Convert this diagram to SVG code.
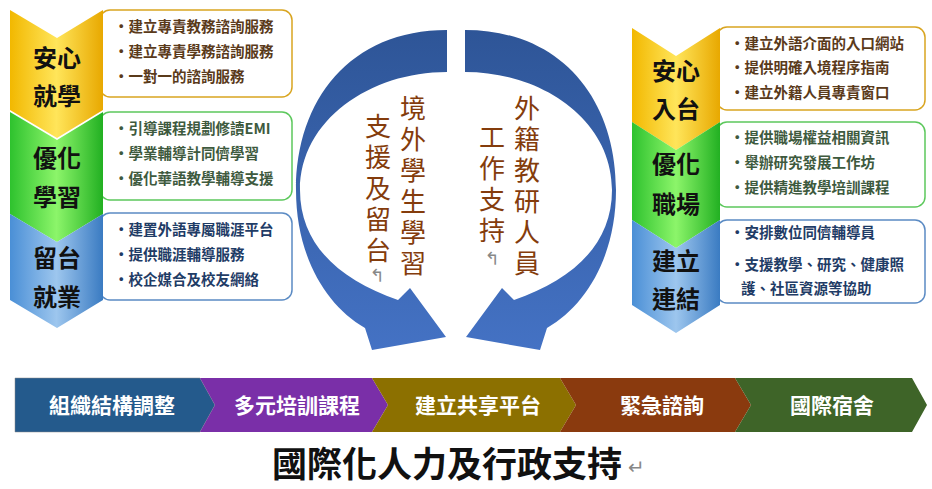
<svg xmlns="http://www.w3.org/2000/svg" width="932" height="489" viewBox="0 0 932 489">
<defs>
<linearGradient id="gy" x1="0" y1="0" x2="1" y2="0"><stop offset="0" stop-color="#F2B800"/><stop offset="0.5" stop-color="#FFE55A"/><stop offset="1" stop-color="#E8A800"/></linearGradient>
<linearGradient id="gg" x1="0" y1="0" x2="1" y2="0"><stop offset="0" stop-color="#2EC22E"/><stop offset="0.5" stop-color="#8CF56A"/><stop offset="1" stop-color="#22B022"/></linearGradient>
<linearGradient id="gb" x1="0" y1="0" x2="1" y2="0"><stop offset="0" stop-color="#4A8FD6"/><stop offset="0.5" stop-color="#9DC6EE"/><stop offset="1" stop-color="#3A7BC2"/></linearGradient>
<linearGradient id="ga" x1="0" y1="0" x2="0" y2="1"><stop offset="0" stop-color="#2E5597"/><stop offset="1" stop-color="#4472C4"/></linearGradient>
<style>
.ch{font-family:"Noto Sans CJK TC","Noto Sans CJK SC",sans-serif;font-size:24px;font-weight:bold;fill:#111;text-anchor:middle}
.bx{fill:#fff;stroke-width:1.5}
.li{font-family:"Noto Sans CJK TC","Noto Sans CJK SC",sans-serif;font-size:14.5px;font-weight:bold}
.vt{font-family:"Noto Sans CJK TC","Noto Sans CJK SC",sans-serif;font-size:26px;fill:#843C0C;writing-mode:vertical-rl;letter-spacing:5px}
.mk{font-family:"DejaVu Sans",sans-serif;font-size:18px;fill:#888;text-anchor:middle}
.bt{font-family:"Noto Sans CJK TC","Noto Sans CJK SC",sans-serif;font-size:21px;font-weight:bold;fill:#fff;text-anchor:middle}
</style>
</defs>
<rect width="932" height="489" fill="#fff"/>

<g id="left1">
<rect class="bx" x="100" y="10" width="192" height="87" rx="10" stroke="#D9A520"/>
<polygon points="10,10 57,38 103,10 103,110 57,138 10,110" fill="url(#gy)"/>
<text class="ch" x="57" y="67">安心</text><text class="ch" x="57" y="105">就學</text>
<g class="li" fill="#5A3A1A"><text x="114" y="32">•建立專責教務諮詢服務</text><text x="114" y="57">•建立專責學務諮詢服務</text><text x="114" y="82">•一對一的諮詢服務</text></g>
</g>
<g id="left2">
<rect class="bx" x="100" y="112" width="192" height="88" rx="10" stroke="#5CC85C"/>
<polygon points="10,112 57,140 103,112 103,214 57,242 10,214" fill="url(#gg)"/>
<text class="ch" x="57" y="167">優化</text><text class="ch" x="57" y="206">學習</text>
<g class="li" fill="#3E5A3E"><text x="114" y="134">•引導課程規劃修讀EMI</text><text x="114" y="159">•學業輔導計同儕學習</text><text x="114" y="184">•優化華語教學輔導支援</text></g>
</g>
<g id="left3">
<rect class="bx" x="100" y="213" width="192" height="87" rx="10" stroke="#5B8BC4"/>
<polygon points="10,214 57,242 103,214 103,300 57,328 10,300" fill="url(#gb)"/>
<text class="ch" x="57" y="267">留台</text><text class="ch" x="57" y="306">就業</text>
<g class="li" fill="#1F3C66"><text x="114" y="235">•建置外語專屬職涯平台</text><text x="114" y="260">•提供職涯輔導服務</text><text x="114" y="285">•校企媒合及校友網絡</text></g>
</g>

<g id="right1">
<rect class="bx" x="717" y="27" width="208" height="83" rx="10" stroke="#D9A520"/>
<polygon points="632,28 676,56 720,28 720,122 676,150 632,122" fill="url(#gy)"/>
<text class="ch" x="676" y="80">安心</text><text class="ch" x="676" y="118">入台</text>
<g class="li" fill="#5A3A1A"><text x="730" y="49">•建立外語介面的入口網站</text><text x="730" y="73">•提供明確入境程序指南</text><text x="730" y="98">•建立外籍人員專責窗口</text></g>
</g>
<g id="right2">
<rect class="bx" x="717" y="122" width="208" height="85" rx="10" stroke="#5CC85C"/>
<polygon points="632,122 676,150 720,122 720,220 676,248 632,220" fill="url(#gg)"/>
<text class="ch" x="676" y="173">優化</text><text class="ch" x="676" y="213">職場</text>
<g class="li" fill="#3E5A3E"><text x="730" y="143">•提供職場權益相關資訊</text><text x="730" y="168">•舉辦研究發展工作坊</text><text x="730" y="193">•提供精進教學培訓課程</text></g>
</g>
<g id="right3">
<rect class="bx" x="717" y="220" width="208" height="83" rx="10" stroke="#5B8BC4"/>
<polygon points="632,220 676,248 720,220 720,305 676,333 632,305" fill="url(#gb)"/>
<text class="ch" x="676" y="270">建立</text><text class="ch" x="676" y="308">連結</text>
<g class="li" fill="#1F3C66"><text x="730" y="238">•安排數位同儕輔導員</text><text x="730" y="270">•支援教學、研究、健康照</text><text x="741" y="294">護、社區資源等協助</text></g>
</g>

<g id="connectors">
<path id="arcL" d="M447,30 C350,30 296,100 296,190 C296,255 325,305 365,328 L372,350 L446,337 L410,288 L398,300 C340,280 300,245 300,190 C300,120 370,72 447,72 Z" fill="url(#ga)"/>
<use href="#arcL" transform="translate(912,0) scale(-1,1)"/>
</g>

<g id="centerL">
<text class="vt" x="413" y="95">境外學生學習</text>
<text class="vt" x="378" y="113">支援及留台</text>
<text class="mk" x="377" y="282">↰</text>
</g>
<g id="centerR">
<text class="vt" x="527" y="95">外籍教研人員</text>
<text class="vt" x="492" y="124">工作支持</text>
<text class="mk" x="492" y="265">↰</text>
</g>

<g id="bar">
<polygon points="15,378 200,378 215,405 200,432 15,432" fill="#245A8C" stroke="#888" stroke-width="0.5"/>
<polygon points="200,378 372,378 388,405 372,432 200,432 215,405" fill="#7A2FA8"/>
<polygon points="372,378 560,378 576,405 560,432 372,432 388,405" fill="#8C7000"/>
<polygon points="560,378 735,378 751,405 735,432 560,432 576,405" fill="#8A3A0E"/>
<polygon points="735,378 912,378 927,405 912,432 735,432 751,405" fill="#3E6428"/>
<text class="bt" x="112" y="413">組織結構調整</text>
<text class="bt" x="297" y="413">多元培訓課程</text>
<text class="bt" x="478" y="413">建立共享平台</text>
<text class="bt" x="662" y="413">緊急諮詢</text>
<text class="bt" x="832" y="413">國際宿舍</text>
</g>
<g id="title">
<text x="447" y="477" font-family="Noto Sans CJK TC,sans-serif" font-size="35" font-weight="bold" fill="#111" text-anchor="middle">國際化人力及行政支持</text>
<text x="628" y="474" font-family="DejaVu Sans,sans-serif" font-size="20" fill="#888">↵</text>
</g>
</svg>
